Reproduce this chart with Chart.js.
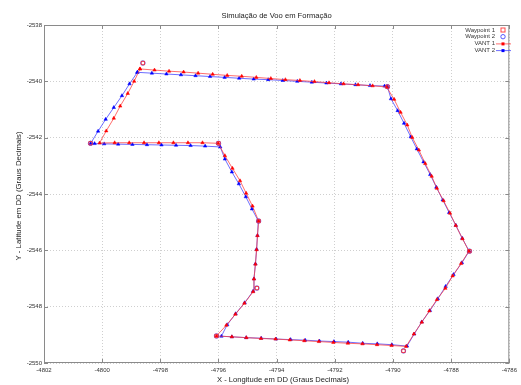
<!DOCTYPE html>
<html><head><meta charset="utf-8">
<script src="https://cdn.jsdelivr.net/npm/chart.js@4/dist/chart.umd.min.js"></script>
<style>html,body{margin:0;padding:0;background:#fff;}#c{display:block;}</style>
</head><body>
<canvas id="c" width="521" height="385"></canvas>
<script>
const titleText = "Simulação de Voo em Formação";
const xTitle = "X - Longitude em DD (Graus Decimais)";
const yTitle = "Y - Latitude em DD (Graus Decimais)";
const seriesNames = ["Waypoint 1", "Waypoint 2", "VANT 1", "VANT 2"];
const xTicks = [-4802, -4800, -4798, -4796, -4794, -4792, -4790, -4788, -4786];
const yTicks = [-2550, -2548, -2546, -2544, -2542, -2540, -2538];

const wpX = [-4798.60,-4790.19,-4787.37,-4789.64,-4796.07,-4794.68,-4794.62,-4796.00,-4800.40];
const wpY = [-2539.35,-2540.19,-2546.03,-2549.57,-2549.04,-2547.34,-2544.96,-2542.20,-2542.20];

const vant1X = [
-4798.70,-4798.20,-4797.70,-4797.20,-4796.70,-4796.20,-4795.70,-4795.20,-4794.70,-4794.20,-4793.70,-4793.20,-4792.70,-4792.20,-4791.70,-4791.20,-4790.70,-4790.22,
-4789.96,-4789.74,-4789.51,-4789.34,-4789.11,-4788.89,-4788.67,-4788.49,-4788.26,-4788.04,-4787.84,-4787.61,-4787.39,
-4787.66,-4787.95,-4788.20,-4788.49,-4788.75,-4789.01,-4789.28,-4789.55,
-4790.05,-4790.55,-4791.05,-4791.55,-4792.05,-4792.55,-4793.05,-4793.55,-4794.04,-4794.54,-4795.04,-4795.54,-4796.07,
-4795.73,-4795.42,-4795.11,-4794.81,
-4794.78,-4794.73,-4794.69,-4794.66,-4794.62,
-4794.83,-4795.05,-4795.26,-4795.52,-4795.78,-4796.01,
-4796.55,-4797.05,-4797.55,-4798.05,-4798.56,-4799.07,-4799.57,-4800.09,
-4799.86,-4799.60,-4799.38,-4799.12,-4798.90,-4798.70];
const vant1Y = [
-2539.56,-2539.60,-2539.64,-2539.67,-2539.71,-2539.75,-2539.79,-2539.82,-2539.86,-2539.90,-2539.94,-2539.97,-2540.01,-2540.05,-2540.09,-2540.12,-2540.16,-2540.20,
-2540.64,-2541.10,-2541.55,-2541.99,-2542.44,-2542.92,-2543.37,-2543.80,-2544.24,-2544.68,-2545.12,-2545.59,-2546.03,
-2546.47,-2546.91,-2547.35,-2547.75,-2548.15,-2548.55,-2548.97,-2549.41,
-2549.38,-2549.35,-2549.32,-2549.30,-2549.27,-2549.24,-2549.21,-2549.18,-2549.15,-2549.13,-2549.10,-2549.07,-2549.04,
-2548.66,-2548.27,-2547.88,-2547.47,
-2547.02,-2546.49,-2545.98,-2545.48,-2544.96,
-2544.43,-2543.97,-2543.53,-2543.09,-2542.64,-2542.20,
-2542.18,-2542.18,-2542.18,-2542.18,-2542.18,-2542.18,-2542.18,-2542.19,
-2541.76,-2541.31,-2540.88,-2540.43,-2540.00,-2539.56];

const vant2X = [
-4798.79,-4798.29,-4797.79,-4797.29,-4796.79,-4796.29,-4795.79,-4795.29,-4794.79,-4794.29,-4793.79,-4793.29,-4792.79,-4792.29,-4791.79,-4791.29,-4790.79,-4790.29,-4790.19,
-4790.07,-4789.84,-4789.62,-4789.39,-4789.18,-4788.95,-4788.72,-4788.51,-4788.29,-4788.07,-4787.84,-4787.62,-4787.38,
-4787.63,-4787.92,-4788.19,-4788.46,-4788.73,-4789.01,-4789.27,-4789.52,
-4790.04,-4790.54,-4791.04,-4791.54,-4792.03,-4792.53,-4793.02,-4793.52,-4794.02,-4794.53,-4795.05,-4795.54,-4795.90,
-4795.70,-4795.41,-4795.10,-4794.81,
-4794.78,-4794.73,-4794.69,-4794.66,-4794.63,
-4794.85,-4795.06,-4795.30,-4795.54,-4795.78,-4795.94,
-4796.46,-4796.96,-4797.46,-4797.96,-4798.46,-4798.96,-4799.45,-4799.93,-4800.26,-4800.40,
-4800.14,-4799.88,-4799.60,-4799.32,-4799.06,-4798.79];
const vant2Y = [
-2539.68,-2539.71,-2539.74,-2539.77,-2539.80,-2539.83,-2539.86,-2539.89,-2539.92,-2539.94,-2539.97,-2540.00,-2540.03,-2540.06,-2540.09,-2540.12,-2540.15,-2540.17,-2540.19,
-2540.62,-2541.04,-2541.49,-2541.97,-2542.40,-2542.86,-2543.31,-2543.76,-2544.21,-2544.66,-2545.11,-2545.57,-2546.03,
-2546.44,-2546.86,-2547.28,-2547.72,-2548.14,-2548.54,-2548.97,-2549.40,
-2549.35,-2549.32,-2549.30,-2549.26,-2549.24,-2549.22,-2549.19,-2549.17,-2549.15,-2549.12,-2549.10,-2549.07,-2549.05,
-2548.64,-2548.25,-2547.86,-2547.45,
-2547.01,-2546.48,-2545.96,-2545.47,-2544.96,
-2544.53,-2544.10,-2543.64,-2543.22,-2542.76,-2542.33,
-2542.30,-2542.28,-2542.27,-2542.26,-2542.25,-2542.24,-2542.23,-2542.22,-2542.21,-2542.21,
-2541.77,-2541.35,-2540.93,-2540.51,-2540.09,-2539.68];

const pts = (xs, ys) => xs.map((x, i) => ({x: x, y: ys[i]}));
const FONT = '"Liberation Sans", Arial, sans-serif';

const decor = {
  id: 'decor',
  afterDraw(chart) {
    const ctx = chart.ctx, a = chart.chartArea;
    ctx.save();
    ctx.strokeStyle = '#8a8a8a';
    ctx.lineWidth = 1;
    ctx.strokeRect(a.left + 0.5, a.top + 0.5, a.right - a.left - 1, a.bottom - a.top - 1);
    const ys = chart.scales.y, xs = chart.scales.x;
    ctx.beginPath();
    yTicks.forEach(v => { const p = Math.round(ys.getPixelForValue(v)) + 0.5; ctx.moveTo(a.right - 4, p); ctx.lineTo(a.right, p); ctx.moveTo(a.left, p); ctx.lineTo(a.left + 4, p); });
    xTicks.forEach(v => { const p = Math.round(xs.getPixelForValue(v)) + 0.5; ctx.moveTo(p, a.bottom - 4); ctx.lineTo(p, a.bottom); ctx.moveTo(p, a.top); ctx.lineTo(p, a.top + 4); });
    ctx.stroke();
    ctx.fillStyle = '#222';
    ctx.textAlign = 'center'; ctx.textBaseline = 'middle';
    ctx.font = '7.6px ' + FONT;
    ctx.fillText(titleText, (a.left + a.right) / 2, 16);
    ctx.font = '7.6px ' + FONT;
    ctx.fillText(xTitle, 283, 380);
    ctx.save();
    ctx.translate(19, 196);
    ctx.rotate(-Math.PI / 2);
    ctx.font = '7.8px ' + FONT;
    ctx.fillText(yTitle, 0, 0);
    ctx.restore();
    ctx.font = '6px ' + FONT;
    ctx.textAlign = 'right';
    const rowsY = [30, 36.7, 43.4, 50.1];
    chart.data.datasets.forEach((ds, i) => {
      const y = rowsY[i];
      ctx.fillStyle = '#333';
      ctx.fillText(ds.label, 495, y);
      const cx = 503;
      if (i < 2) {
        ctx.strokeStyle = ds.borderColor; ctx.lineWidth = 1;
        if (i === 0) ctx.strokeRect(cx - 2, y - 2, 4, 4);
        else { ctx.beginPath(); ctx.arc(cx, y, 2.2, 0, Math.PI * 2); ctx.stroke(); }
      } else {
        ctx.strokeStyle = ds.borderColor; ctx.lineWidth = 1;
        ctx.beginPath(); ctx.moveTo(496, y + 0.5); ctx.lineTo(511, y + 0.5); ctx.stroke();
        ctx.fillStyle = ds.pointBackgroundColor;
        ctx.fillRect(cx - 1.5, y - 1, 3, 3);
      }
    });
    ctx.restore();
  }
};

new Chart(document.getElementById('c'), {
  type: 'scatter',
  data: {
    datasets: [
      {label: seriesNames[0], data: pts(wpX, wpY), showLine: false, pointStyle: 'rect', pointRadius: 2.4, borderColor: 'rgba(255,40,40,0.85)', backgroundColor: 'rgba(0,0,0,0)', borderWidth: 1},
      {label: seriesNames[1], data: pts(wpX, wpY), showLine: false, pointStyle: 'circle', pointRadius: 2.2, borderColor: 'rgba(60,60,255,0.85)', backgroundColor: 'rgba(0,0,0,0)', borderWidth: 1},
      {label: seriesNames[2], data: pts(vant1X, vant1Y), showLine: true, borderColor: 'rgba(255,60,60,0.75)', borderWidth: 1, pointStyle: 'triangle', pointRadius: 2, pointBackgroundColor: '#ff0000', pointBorderColor: '#ff0000', pointBorderWidth: 0.5, tension: 0},
      {label: seriesNames[3], data: pts(vant2X, vant2Y), showLine: true, borderColor: 'rgba(60,60,255,0.75)', borderWidth: 1, pointStyle: 'triangle', pointRadius: 2, pointBackgroundColor: '#0000ff', pointBorderColor: '#0000ff', pointBorderWidth: 0.5, tension: 0}
    ]
  },
  options: {
    responsive: false,
    animation: false,
    events: [],
    layout: {padding: {top: 25, right: 7, left: 0, bottom: 0}},
    plugins: {legend: {display: false}, title: {display: false}, tooltip: {enabled: false}},
    scales: {
      x: {
        type: 'linear', min: -4802, max: -4786,
        afterFit(s) { s.height = 22; },
        afterBuildTicks(s) { s.ticks = xTicks.map(v => ({value: v})); },
        ticks: {padding: 4, font: {size: 6, family: FONT}, color: '#333', callback: v => String(v)},
        grid: {color: '#cfcfcf', drawTicks: false, lineWidth: 1},
        border: {display: false, dash: [1, 2]}
      },
      y: {
        type: 'linear', min: -2550, max: -2538,
        afterFit(s) { s.width = 44; },
        afterBuildTicks(s) { s.ticks = yTicks.map(v => ({value: v})); },
        ticks: {padding: 2, font: {size: 6, family: FONT}, color: '#333', callback: v => String(v)},
        grid: {color: '#cfcfcf', drawTicks: false, lineWidth: 1},
        border: {display: false, dash: [1, 2]}
      }
    }
  },
  plugins: [decor]
});
</script>
</body></html>
